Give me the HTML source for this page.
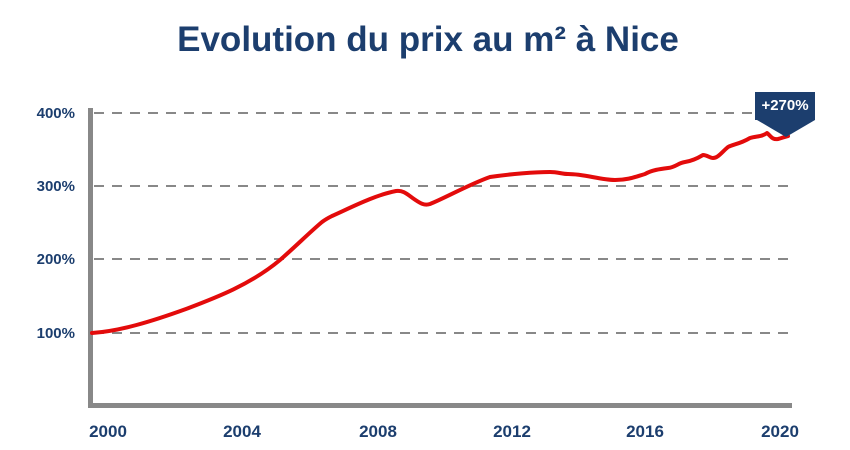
<!DOCTYPE html>
<html><head><meta charset="utf-8"><style>
html,body{margin:0;padding:0;background:#fff;}
svg{display:block;}
text{font-family:"Liberation Sans",sans-serif;font-weight:bold;fill:#1c3e6e;}
</style></head><body>
<svg width="850" height="450" viewBox="0 0 850 450" xmlns="http://www.w3.org/2000/svg">
<text x="428" y="51" font-size="35" text-anchor="middle">Evolution du prix au m² à Nice</text>
<g stroke="#888" stroke-width="2" stroke-dasharray="10,8">
<line x1="94" y1="113" x2="792" y2="113"/>
<line x1="94" y1="186" x2="792" y2="186"/>
<line x1="94" y1="259" x2="792" y2="259"/>
<line x1="94" y1="333" x2="792" y2="333"/>
</g>
<line x1="90.5" y1="108" x2="90.5" y2="408" stroke="#888" stroke-width="5"/>
<line x1="88" y1="405.5" x2="792" y2="405.5" stroke="#888" stroke-width="5"/>
<g font-size="15" text-anchor="end">
<text x="75" y="118">400%</text>
<text x="75" y="191">300%</text>
<text x="75" y="264">200%</text>
<text x="75" y="338">100%</text>
</g>
<g font-size="17" text-anchor="middle">
<text x="108" y="437">2000</text>
<text x="242" y="437">2004</text>
<text x="378" y="437">2008</text>
<text x="512" y="437">2012</text>
<text x="645" y="437">2016</text>
<text x="780" y="437">2020</text>
</g>
<path d="M92,333 C120,331 150,322 186,309 C215,298 250,285 280,260 C295,247 310,232 322,222 C326,219 328,218 332,216 C350,208 375,195 396,191 C404,190 408,195 414,199 C420,203 424,206 430,204 C445,198 470,184 490,177 C510,174 535,172 550,172 C558,172 562,174 568,174 C585,174 600,180 615,180 C628,180 635,177 645,174 C652,170 660,169 668,168 C676,167 678,163 685,162 C692,161 698,158 703,155 C707,155 710,158 713,158 C718,158 722,152 728,147 C734,144 740,144 750,138 C756,136 762,137 767,133 C771,136 772,140 778,139 C782,138 784,137 788,136" fill="none" stroke="#e30b0b" stroke-width="4" stroke-linecap="round" stroke-linejoin="round"/>
<path d="M755,92 L815,92 L815,120 L786,137 L757,120 L755,120 Z" fill="#1c3e6e"/>
<text x="785" y="110" font-size="15" text-anchor="middle" style="fill:#fff">+270%</text>
</svg>
</body></html>
